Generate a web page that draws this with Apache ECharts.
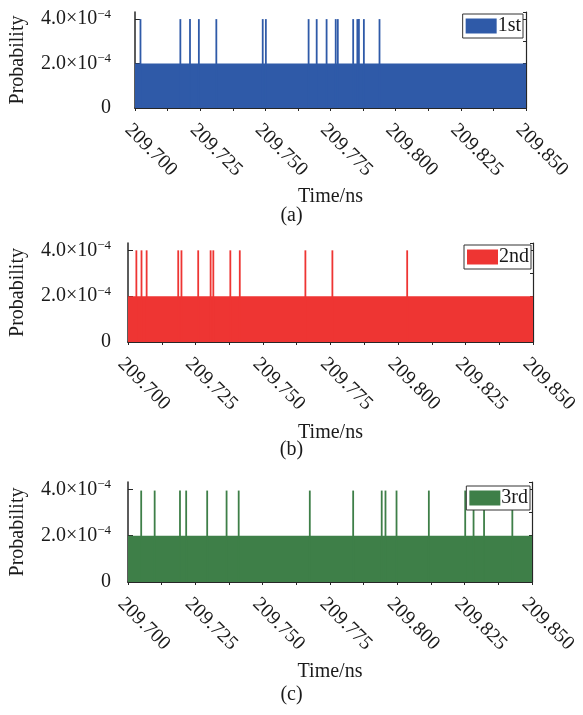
<!DOCTYPE html>
<html>
<head>
<meta charset="utf-8">
<script src="https://cdn.jsdelivr.net/npm/echarts@6/dist/echarts.min.js"></script>
<style>html,body{margin:0;padding:0;background:#fff}#c{width:583px;height:715px}</style>
</head>
<body>
<div id="c"></div>
<script>
// ---- data ----
const xRange = [209.700, 209.850];
const xStep = 0.025;
const yTicks = [0, 2.0e-4, 4.0e-4];
const yMax = 4.32e-4;
const seriesNames = ['1st', '2nd', '3rd'];
const captions = ['(a)', '(b)', '(c)'];

const baseline1st = [[209.700, 2.0e-4], [209.850, 2.0e-4]];
const baseline2nd = [[209.700, 2.0e-4], [209.850, 2.0e-4]];
const baseline3rd = [[209.700, 2.0e-4], [209.850, 2.0e-4]];

const spikes1st = [
  [209.7021, 4.0e-4], [209.7174, 4.0e-4], [209.7211, 4.0e-4], [209.7245, 4.0e-4],
  [209.7312, 4.0e-4], [209.7490, 4.0e-4], [209.7502, 4.0e-4], [209.7666, 4.0e-4],
  [209.7697, 4.0e-4], [209.7735, 4.0e-4], [209.7770, 4.0e-4], [209.7778, 4.0e-4],
  [209.7837, 4.0e-4], [209.7853, 4.0e-4], [209.7859, 4.0e-4], [209.7878, 4.0e-4],
  [209.7938, 4.0e-4]
];
const spikes2nd = [
  [209.7031, 4.0e-4], [209.7050, 4.0e-4], [209.7069, 4.0e-4], [209.7186, 4.0e-4],
  [209.7198, 4.0e-4], [209.7260, 4.0e-4], [209.7306, 4.0e-4], [209.7316, 4.0e-4],
  [209.7379, 4.0e-4], [209.7414, 4.0e-4], [209.7657, 4.0e-4], [209.7757, 4.0e-4],
  [209.8034, 4.0e-4]
];
const spikes3rd = [
  [209.7049, 3.95e-4], [209.7099, 3.95e-4], [209.7193, 3.95e-4], [209.7216, 3.95e-4],
  [209.7294, 3.95e-4], [209.7366, 3.95e-4], [209.7411, 3.95e-4], [209.7675, 3.95e-4],
  [209.7836, 3.95e-4], [209.7942, 3.95e-4], [209.7956, 3.95e-4], [209.7997, 3.95e-4],
  [209.8117, 3.95e-4], [209.8252, 3.95e-4], [209.8283, 3.95e-4], [209.8322, 3.95e-4],
  [209.8427, 3.95e-4]
];

const colors = ['#2F5AA8', '#EE3533', '#3E7F48'];
const baselines = [baseline1st, baseline2nd, baseline3rd];
const spikes = [spikes1st, spikes2nd, spikes3rd];

// ---- layout ----
const FONT = "'Liberation Serif','Times New Roman',serif";
const FS = 20;
const grids = [
  {left: 134, right: 57, top: 12, height: 96},
  {left: 127, right: 50, top: 243, height: 99},
  {left: 127, right: 51, top: 482, height: 100}
];
const legendPos = [{right: 60, top: 14}, {right: 52, top: 245}, {right: 53, top: 486}];
const labelMargin = [24, 17, 17];
const nameGapY = [107, 100, 100];
const nameGapX = [79, 81, 80];
const captionY = [216, 450, 695];

function yFmt(v) {
  if (Math.abs(v) < 1e-12) return '{m|0}';
  return '{m|' + (v / 1e-4).toFixed(1) + '×10}{e|−4}';
}

const axisColor = '#262626';
const textColor = '#1a1a1a';
const option = {
  animation: false,
  backgroundColor: '#fff',
  grid: grids.map(g => Object.assign({containLabel: false}, g)),
  xAxis: [],
  yAxis: [],
  series: [],
  legend: [],
  graphic: []
};

for (let i = 0; i < 3; i++) {
  option.xAxis.push({
    type: 'value', gridIndex: i, min: xRange[0], max: xRange[1], interval: xStep,
    name: 'Time/ns', nameLocation: 'middle', nameGap: nameGapX[i],
    nameTextStyle: {fontFamily: FONT, fontSize: FS, color: textColor},
    axisLine: {show: true, lineStyle: {color: axisColor, width: 1.5}},
    axisTick: {show: true, inside: true, length: 4, lineStyle: {color: axisColor}},
    splitLine: {show: false},
    axisLabel: {
      rotate: -45, margin: 12, align: 'left', verticalAlign: 'top',
      fontFamily: FONT, fontSize: FS, color: textColor,
      showMinLabel: true, showMaxLabel: true,
      formatter: v => v.toFixed(3)
    }
  });
  option.xAxis.push({
    type: 'value', gridIndex: i, position: 'top', min: xRange[0], max: xRange[1], interval: xStep / 2,
    axisLine: {show: true, lineStyle: {color: axisColor, width: 1.2}},
    axisTick: {show: true, inside: true, length: 3, lineStyle: {color: axisColor}},
    axisLabel: {show: false}, splitLine: {show: false}
  });
  option.yAxis.push({
    type: 'value', gridIndex: i, min: 0, max: yMax, interval: 2.0e-4,
    name: 'Probability', nameLocation: 'middle', nameGap: nameGapY[i], nameRotate: 90,
    nameTextStyle: {fontFamily: FONT, fontSize: FS, color: textColor},
    axisLine: {show: true, lineStyle: {color: axisColor, width: 1.5}},
    axisTick: {show: true, inside: true, length: 5, lineStyle: {color: axisColor}},
    splitLine: {show: false},
    axisLabel: {
      margin: labelMargin[i], color: textColor, formatter: yFmt, showMaxLabel: false,
      rich: {
        m: {fontFamily: FONT, fontSize: FS, color: textColor},
        e: {fontFamily: FONT, fontSize: 13, color: textColor, padding: [0, 0, 10, 0]}
      }
    }
  });
  option.yAxis.push({
    type: 'value', gridIndex: i, position: 'right', min: 0, max: yMax, interval: 1.0e-4,
    axisLine: {show: true, lineStyle: {color: axisColor, width: 1.2}},
    axisTick: {show: true, inside: true, length: 3, lineStyle: {color: axisColor}},
    axisLabel: {show: false}, splitLine: {show: false}
  });
  option.series.push({
    name: seriesNames[i], type: 'line', xAxisIndex: 2 * i, yAxisIndex: 2 * i,
    data: baselines[i], symbol: 'none', step: 'start',
    lineStyle: {width: 0, color: colors[i]},
    itemStyle: {color: colors[i]},
    areaStyle: {color: colors[i], opacity: 1},
    z: 2
  });
  option.series.push({
    name: seriesNames[i] + ' spikes', type: 'bar', xAxisIndex: 2 * i, yAxisIndex: 2 * i,
    data: spikes[i], barWidth: 1.8, itemStyle: {color: colors[i]}, z: 3
  });
  option.legend.push(Object.assign({
    data: [seriesNames[i]], icon: 'rect', itemWidth: 31, itemHeight: 15, itemGap: 0,
    padding: [2, 2, 2, 3], borderColor: '#333', borderWidth: 1, backgroundColor: '#fff',
    selectedMode: false,
    textStyle: {fontFamily: FONT, fontSize: FS, lineHeight: 16, color: textColor, padding: [0, 0, 0, -4]}
  }, legendPos[i]));
  option.graphic.push({
    type: 'text', left: 'center', top: captionY[i] - 10,
    style: {text: captions[i], font: FS + 'px ' + FONT, fill: textColor}
  });
}

const chart = echarts.init(document.getElementById('c'), null, {renderer: 'canvas'});
chart.setOption(option);
</script>
</body>
</html>
